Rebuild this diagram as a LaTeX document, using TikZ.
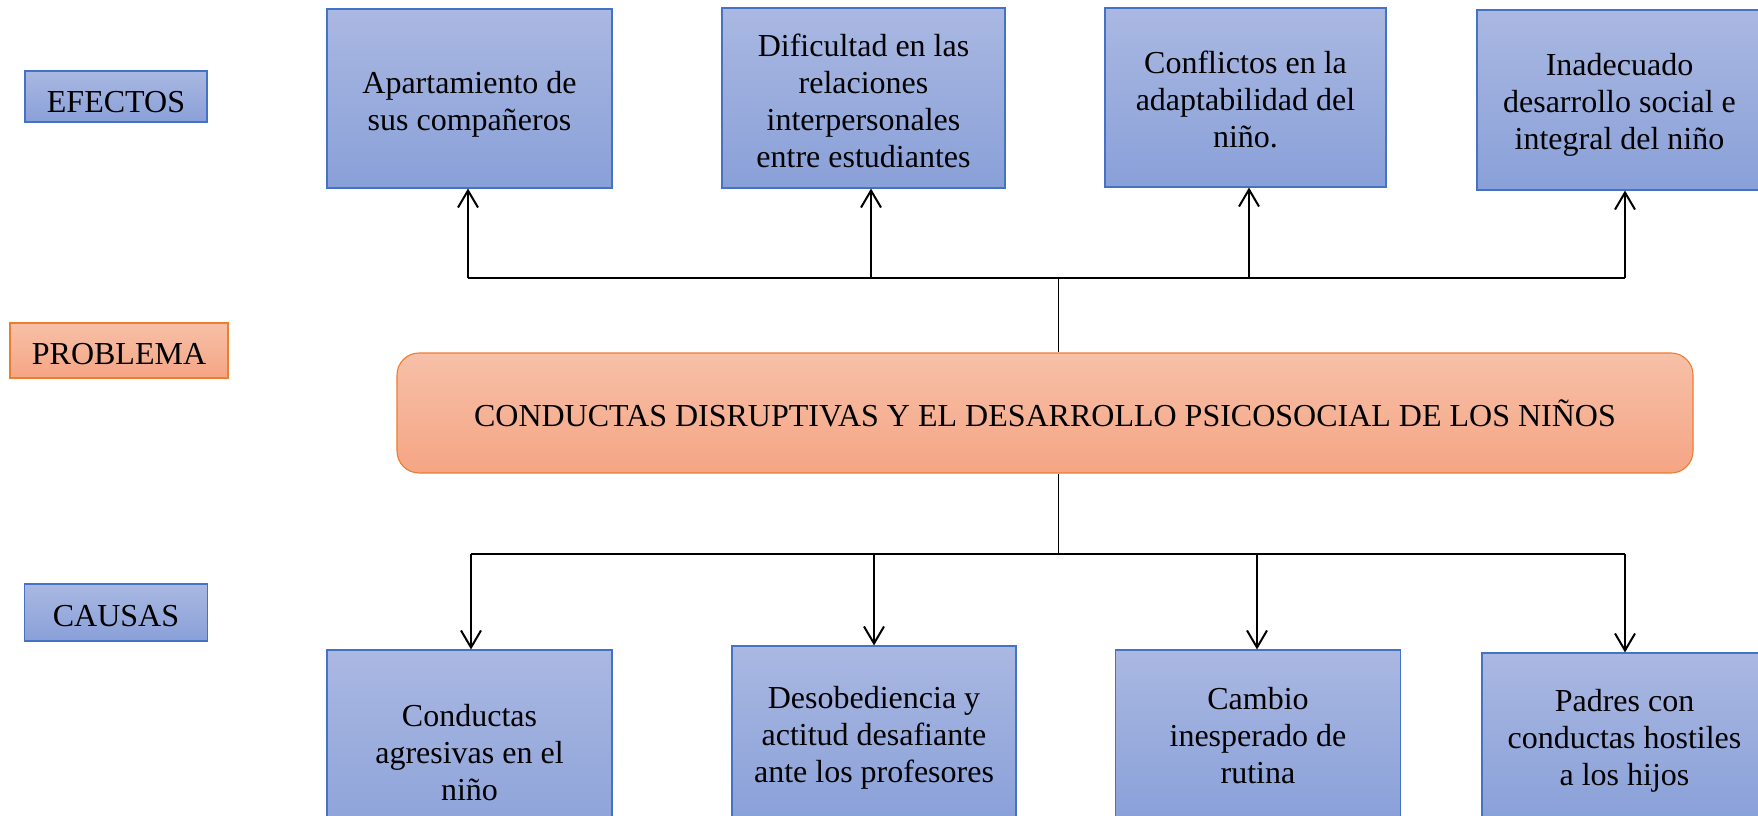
\documentclass[tikz,border=0pt]{standalone}
\usepackage{fontspec}
\setmainfont{Liberation Serif}
\usetikzlibrary{arrows.meta,calc}
\definecolor{bluetop}{RGB}{170,184,226}
\definecolor{bluebot}{RGB}{137,160,216}
\definecolor{blueline}{RGB}{68,114,196}
\definecolor{orgtop}{RGB}{247,192,168}
\definecolor{orgbot}{RGB}{245,165,132}
\definecolor{orgline}{RGB}{237,125,49}
\tikzset{
  bluebox/.style={draw=blueline, line width=1.1pt, top color=bluetop, bottom color=bluebot, inner sep=0pt},
  orgbox/.style={draw=orgline, line width=1.1pt, top color=orgtop, bottom color=orgbot, inner sep=0pt},
  txt/.style={align=center, inner sep=0pt, font=\fontsize{32}{37}\selectfont},
  arr/.style={draw=black, line width=2pt, -{Straight Barb[length=17pt,width=20pt,line width=2pt]}},
  hline/.style={draw=black, line width=1.5pt},
  stem/.style={draw=black, line width=1pt}
}
\begin{document}
\begin{tikzpicture}[x=1pt,y=-1pt]
\useasboundingbox (0,0) rectangle (1758,816);
\clip (0,0) rectangle (1758,816);
\fill[white] (0,0) rectangle (1758,816);

% labels
\node[bluebox, minimum width=182pt, minimum height=51pt,
  label={[txt,yshift=-5.5pt]center:EFECTOS}] (ef) at (116,96.5) {};
\node[orgbox, minimum width=218pt, minimum height=55pt,
  label={[txt,yshift=-3.5pt]center:PROBLEMA}] (pr) at (119,350.5) {};
\node[bluebox, minimum width=183pt, minimum height=57pt,
  label={[txt,yshift=-3.5pt]center:CAUSAS}] (ca) at (116,612.5) {};

% effects
\node[bluebox, minimum width=285pt, minimum height=179pt,
  label={[txt,yshift=-5.5pt]center:Apartamiento de\\sus compañeros}] (e1) at (469.5,98.5) {};
\node[bluebox, minimum width=283pt, minimum height=180pt,
  label={[txt,yshift=-3pt]center:Dificultad en las\\relaciones\\interpersonales\\entre estudiantes}] (e2) at (863.5,98) {};
\node[bluebox, minimum width=281pt, minimum height=179pt,
  label={[txt,yshift=-2pt]center:Conflictos en la\\adaptabilidad del\\niño.}] (e3) at (1245.5,97.5) {};
\node[bluebox, minimum width=285pt, minimum height=180pt,
  label={[txt,yshift=-5pt]center:Inadecuado\\desarrollo social e\\integral del niño}] (e4) at (1619.5,100) {};

% problem
\node[orgbox, rounded corners=22pt, minimum width=1296pt, minimum height=120pt,
  label={[txt]center:CONDUCTAS DISRUPTIVAS Y EL DESARROLLO PSICOSOCIAL DE LOS NIÑOS}] (p) at (1045,413) {};

% causes
\node[bluebox, minimum width=285pt, minimum height=206pt,
  label={[txt]center:Conductas\\agresivas en el\\niño}] (c1) at (469.5,753) {};
\node[bluebox, minimum width=284pt, minimum height=176pt,
  label={[txt,yshift=-3.5pt]center:Desobediencia y\\actitud desafiante\\ante los profesores}] (c2) at (874,734) {};
\node[bluebox, minimum width=285pt, minimum height=172pt,
  label={[txt]center:Cambio\\inesperado de\\rutina}] (c3) at (1258,736) {};
\node[bluebox, minimum width=285pt, minimum height=168pt,
  label={[txt,yshift=-3.5pt]center:Padres con\\conductas hostiles\\a los hijos}] (c4) at (1624.5,737) {};

% top connectors
\coordinate (tj) at (1058,278);
\coordinate (t1) at (468,278);
\coordinate (t2) at (871,278);
\coordinate (t3) at (1249,278);
\coordinate (t4) at (1625,278);
\draw[hline] (t1) -- (t4);
\draw[stem] (tj) -- (tj |- p.north);
\draw[arr] (t1) -- (t1 |- e1.south);
\draw[arr] (t2) -- (t2 |- e2.south);
\draw[arr] (t3) -- (t3 |- e3.south);
\draw[arr] (t4) -- (t4 |- e4.south);

% bottom connectors
\coordinate (bj) at (1058,554);
\coordinate (b1) at (471,554);
\coordinate (b2) at (874,554);
\coordinate (b3) at (1257,554);
\coordinate (b4) at (1625,554);
\draw[hline] (b1) -- (b4);
\draw[stem] (p.south -| bj) -- (bj);
\draw[arr] (b1) -- (b1 |- c1.north);
\draw[arr] (b2) -- (b2 |- c2.north);
\draw[arr] (b3) -- (b3 |- c3.north);
\draw[arr] (b4) -- (b4 |- c4.north);
\end{tikzpicture}
\end{document}
